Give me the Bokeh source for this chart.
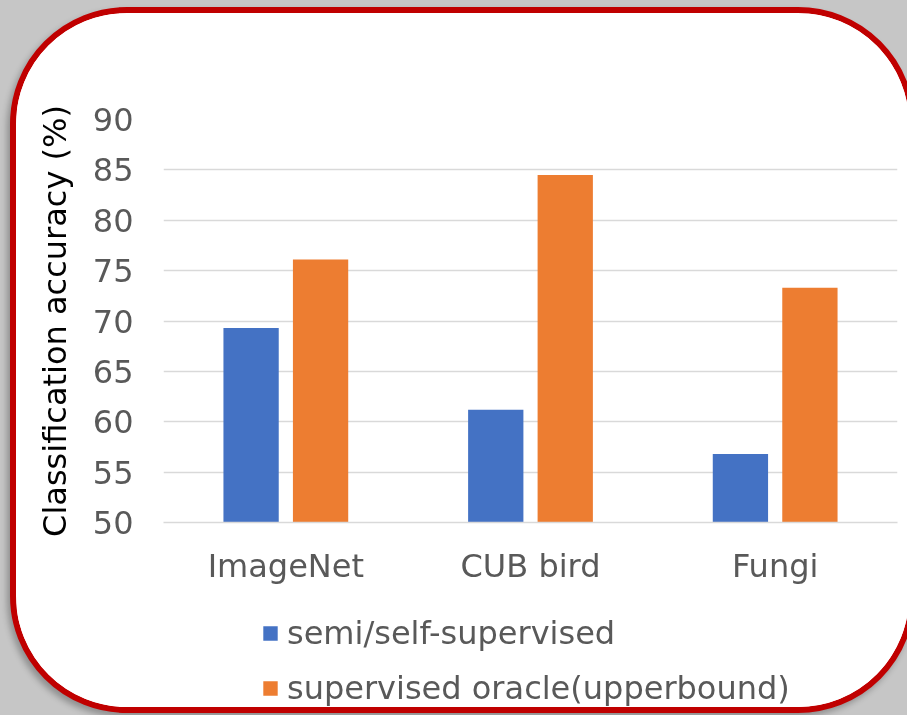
from bokeh.plotting import figure
from bokeh.layouts import column
from bokeh.models import FactorRange, Range1d, FixedTicker, Legend, LegendItem, ColumnDataSource
from bokeh.transform import dodge
from bokeh.embed import file_html
from bokeh.resources import INLINE

categories = ["ImageNet", "CUB bird", "Fungi"]
semi_self = [69.3, 61.2, 56.8]
supervised_oracle = [76.1, 84.5, 73.3]
y_ticks = [50, 55, 60, 65, 70, 75, 80, 85, 90]
series_names = ["semi/self-supervised", "supervised oracle(upperbound)"]
colors = ["#4472C4", "#ED7D31"]

FONT = "DejaVu Sans"
src = ColumnDataSource(dict(cat=categories, semi=semi_self, sup=supervised_oracle))

p = figure(width=893, height=580, x_range=FactorRange(*categories, range_padding=0),
           y_range=Range1d(50, 90), output_backend="svg", toolbar_location=None,
           min_border_left=147, min_border_right=12, min_border_top=106, min_border_bottom=71)
p.border_fill_color = "white"
p.background_fill_color = "white"
p.outline_line_color = None

r1 = p.vbar(x=dodge("cat", -0.142, range=p.x_range), top="semi", bottom=50, width=0.226,
            source=src, fill_color=colors[0], line_color=None)
r2 = p.vbar(x=dodge("cat", 0.142, range=p.x_range), top="sup", bottom=50, width=0.226,
            source=src, fill_color=colors[1], line_color=None)

p.xgrid.grid_line_color = None
p.ygrid.grid_line_color = "#D9D9D9"
p.ygrid.grid_line_width = 1.5
p.yaxis.ticker = FixedTicker(ticks=y_ticks)

p.yaxis.axis_line_color = None
p.yaxis.major_tick_line_color = None
p.yaxis.minor_tick_line_color = None
p.yaxis.major_tick_out = 0
p.yaxis.major_label_standoff = 30
p.yaxis.major_label_text_font = FONT
p.yaxis.major_label_text_font_size = "32px"
p.yaxis.major_label_text_color = "#595959"
p.yaxis.axis_label = "Classification accuracy (%)"
p.yaxis.axis_label_text_font = FONT
p.yaxis.axis_label_text_font_size = "32px"
p.yaxis.axis_label_text_font_style = "normal"
p.yaxis.axis_label_text_color = "black"
p.yaxis.axis_label_standoff = 16

p.xaxis.axis_line_color = "#D9D9D9"
p.xaxis.axis_line_width = 1.5
p.xaxis.major_tick_line_color = None
p.xaxis.minor_tick_line_color = None
p.xaxis.major_tick_out = 0
p.xaxis.major_label_standoff = 24
p.xaxis.major_label_text_font = FONT
p.xaxis.major_label_text_font_size = "32px"
p.xaxis.major_label_text_color = "#595959"

# legend strip (below the chart, inside the same card); its bars lie outside its view
q = figure(width=893, height=114, output_backend="svg", toolbar_location=None,
           x_range=FactorRange(*categories, range_padding=0), y_range=Range1d(100, 101),
           x_axis_type=None, y_axis_type=None,
           min_border_left=0, min_border_right=0, min_border_top=0, min_border_bottom=0)
q.border_fill_color = "white"
q.background_fill_color = "white"
q.outline_line_color = None
q.xgrid.visible = False
q.ygrid.visible = False
l1 = q.vbar(x=dodge("cat", -0.142, range=q.x_range), top="semi", bottom=50, width=0.226,
            source=src, fill_color=colors[0], line_color=None)
l2 = q.vbar(x=dodge("cat", 0.142, range=q.x_range), top="sup", bottom=50, width=0.226,
            source=src, fill_color=colors[1], line_color=None)
legend = Legend(items=[LegendItem(label=series_names[0], renderers=[l1]),
                       LegendItem(label=series_names[1], renderers=[l2])],
                location=(98, 0), orientation="vertical",
                glyph_width=18, glyph_height=18, label_standoff=8, spacing=17,
                padding=0, margin=0, border_line_color=None, background_fill_alpha=0,
                label_text_font=FONT, label_text_font_size="32px", label_text_color="#595959")
q.add_layout(legend)

layout = column(p, q, spacing=0)
layout.styles = {
    "position": "fixed",
    "left": "10px",
    "top": "7px",
    "right": "auto",
    "margin": "0px",
    "box-sizing": "border-box",
    "width": "905px",
    "min-width": "905px",
    "max-width": "none",
    "height": "706px",
    "border": "6px solid #C00000",
    "border-radius": "117px",
    "overflow": "hidden",
    "background-color": "white",
    "box-shadow": "-3px 4px 6px rgba(0,0,0,0.28), 0 0 0 400px #C6C6C6",
}

open("out.html", "w").write(file_html(layout, INLINE))
